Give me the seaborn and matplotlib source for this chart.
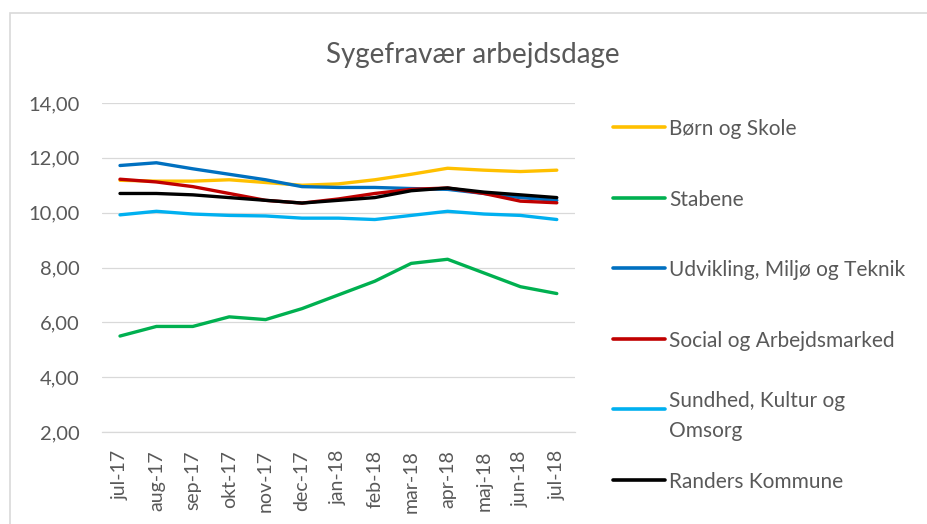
import matplotlib
matplotlib.use("Agg")
import matplotlib.pyplot as plt
from matplotlib.ticker import FuncFormatter, FixedLocator
from matplotlib.patches import Rectangle
from matplotlib.lines import Line2D
import pandas as pd
import seaborn as sns

months = ["jul-17", "aug-17", "sep-17", "okt-17", "nov-17", "dec-17", "jan-18",
          "feb-18", "mar-18", "apr-18", "maj-18", "jun-18", "jul-18"]

born_og_skole = [11.18, 11.15, 11.15, 11.20, 11.10, 11.00, 11.05, 11.20, 11.40, 11.62, 11.55, 11.50, 11.55]
stabene = [5.50, 5.85, 5.85, 6.20, 6.10, 6.50, 7.00, 7.50, 8.15, 8.30, 7.80, 7.30, 7.05]
udvikling = [11.72, 11.82, 11.60, 11.40, 11.20, 10.95, 10.92, 10.92, 10.88, 10.85, 10.70, 10.55, 10.45]
social = [11.22, 11.12, 10.95, 10.70, 10.45, 10.35, 10.50, 10.70, 10.85, 10.90, 10.70, 10.42, 10.36]
sundhed = [9.92, 10.05, 9.95, 9.90, 9.88, 9.80, 9.80, 9.75, 9.90, 10.05, 9.95, 9.90, 9.75]
randers = [10.70, 10.70, 10.65, 10.55, 10.45, 10.35, 10.45, 10.55, 10.80, 10.90, 10.75, 10.65, 10.55]

series_names = ["Børn og Skole", "Stabene", "Udvikling, Miljø og Teknik",
                "Social og Arbejdsmarked", "Sundhed, Kultur og\nOmsorg", "Randers Kommune"]
series_values = [born_og_skole, stabene, udvikling, social, sundhed, randers]
colors = ["#FFC000", "#00B050", "#0070C0", "#C00000", "#00B0F0", "#000000"]

# long form table for seaborn
rows = []
for name, vals in zip(series_names, series_values):
    for m, v in zip(months, vals):
        rows.append({"month": m, "value": v, "series": name})
df = pd.DataFrame(rows)

sns.set_style("white")
plt.rcParams["font.family"] = ["Lato", "DejaVu Sans"]
text_color = "#595959"
W, H = 928, 524

fig = plt.figure(figsize=(9.28, 5.24), dpi=100)
ax = fig.add_axes([101.8 / W, 1 - 432 / H, (575 - 101.8) / W, (432 - 103) / H])

sns.lineplot(data=df, x="month", y="value", hue="series", hue_order=series_names,
             palette=colors, linewidth=2.4, sort=False, ax=ax, legend=False)

ax.set_xlim(-0.5, len(months) - 0.5)
ax.set_ylim(2, 14)
ax.set_yticks([2, 4, 6, 8, 10, 12, 14])
ax.yaxis.set_major_formatter(FuncFormatter(lambda v, p: f"{v:.2f}".replace(".", ",")))
ax.set_xlabel("")
ax.set_ylabel("")
ax.grid(axis="y", color="#D9D9D9", linewidth=0.9)
ax.set_axisbelow(True)
for s in ["top", "right", "left"]:
    ax.spines[s].set_visible(False)
ax.spines["bottom"].set_color("#D9D9D9")
ax.spines["bottom"].set_linewidth(0.9)

ax.set_xticks(range(len(months)))
ax.set_xticklabels(months, rotation=90)
ax.xaxis.set_minor_locator(FixedLocator([i - 0.5 for i in range(len(months) + 1)]))
ax.tick_params(axis="x", which="major", length=0, pad=13, labelsize=14, labelcolor=text_color)
ax.tick_params(axis="x", which="minor", length=5, color="#D9D9D9", width=0.9)
ax.tick_params(axis="y", length=0, pad=16, labelsize=14.5, labelcolor=text_color)

# legend on the right, evenly spaced like Excel
for i, (name, col) in enumerate(zip(series_names, colors)):
    y = 1 - (127 + i * 70.6) / H
    fig.add_artist(Line2D([613 / W, 665 / W], [y, y], color=col, linewidth=2.6,
                          transform=fig.transFigure))
    fig.text(669 / W, y, name, ha="left", va="center_baseline", fontsize=15,
             color=text_color, linespacing=1.6)

fig.text(0.51, 1 - 55 / H, "Sygefravær arbejdsdage", ha="center", va="center",
         fontsize=20, color=text_color)

fig.patches.append(Rectangle((10 / W, -0.1), 1.2, 1 - 13 / H + 0.1, transform=fig.transFigure,
                             fill=False, edgecolor="#D9D9D9", linewidth=1.2))

fig.savefig("out.png", dpi=100)
